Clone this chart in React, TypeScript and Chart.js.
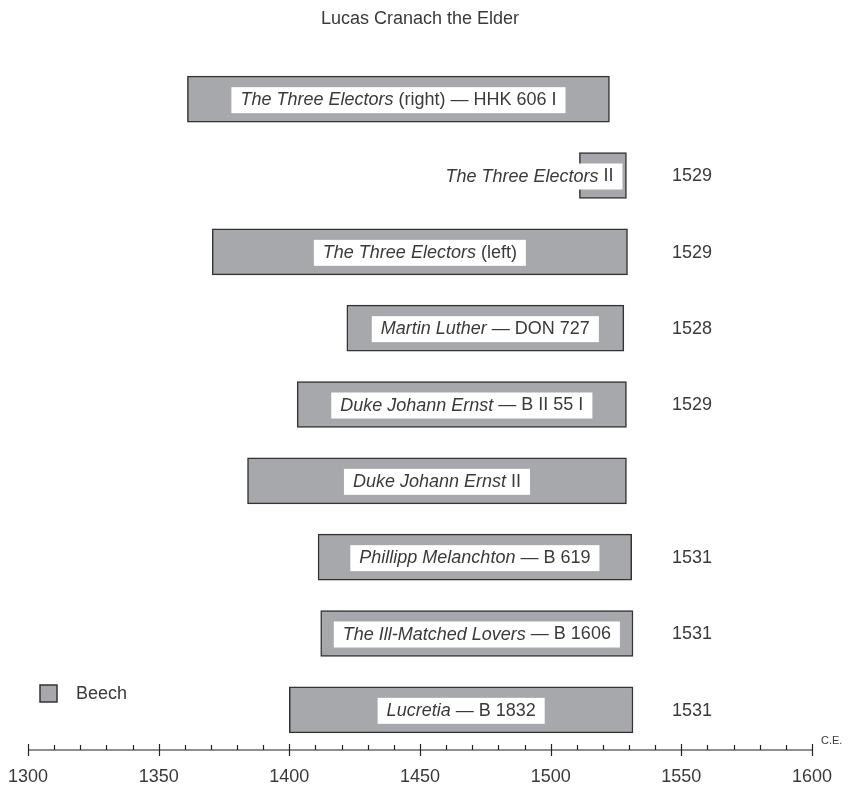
import React, { useEffect, useRef } from "react";
import { Chart, registerables } from "chart.js";

Chart.register(...registerables);

const TITLE = "Lucas Cranach the Elder";
const SPECIES = "Beech";
const ITALIC_TITLES = [
  "The Three Electors",
  "The Three Electors",
  "The Three Electors",
  "Martin Luther",
  "Duke Johann Ernst",
  "Duke Johann Ernst",
  "Phillipp Melanchton",
  "The Ill-Matched Lovers",
  "Lucretia",
];
const PLAIN_SUFFIXES = [
  " (right) — HHK 606 I",
  " II",
  " (left)",
  " — DON 727",
  " — B II 55 I",
  " II",
  " — B 619",
  " — B 1606",
  " — B 1832",
];
const START_YEARS = [1361, 1511, 1370.5, 1422, 1403, 1384, 1411, 1412, 1400];
const END_YEARS = [1522.5, 1529, 1529.4, 1528, 1529, 1529, 1531, 1531.5, 1531.5];
const DATE_LABELS = ["", "1529", "1529", "1528", "1529", "", "1531", "1531", "1531"];
const AXIS_TICKS = [1300, 1350, 1400, 1450, 1500, 1550, 1600];
const MINOR_STEP = 10;
const AXIS_UNIT = "C.E.";

const FONT = '"Liberation Sans", Arial, Helvetica, sans-serif';
const TEXT = "#3a3a3a";
const BAR_FILL = "#a7a8ab";
const BAR_EDGE = "#333333";

const overlayPlugin = {
  id: "overlay",
  afterDatasetsDraw(chart: any) {
    const ctx = chart.ctx;
    const area = chart.chartArea;
    const meta = chart.getDatasetMeta(0);
    ctx.save();
    meta.data.forEach((bar: any, i: number) => {
      const p = bar.getProps(["x", "y", "base"], true);
      const left = Math.min(p.x, p.base);
      const right = Math.max(p.x, p.base);
      ctx.font = `italic 18px ${FONT}`;
      const w1 = ctx.measureText(ITALIC_TITLES[i]).width;
      ctx.font = `18px ${FONT}`;
      const w2 = ctx.measureText(PLAIN_SUFFIXES[i]).width;
      const pad = 9;
      const boxW = w1 + w2 + pad * 2;
      let boxL = (left + right) / 2 - boxW / 2;
      if (boxW > right - left - 10) boxL = right - 4 - boxW;
      ctx.fillStyle = "#ffffff";
      ctx.fillRect(boxL, p.y - 12, boxW, 26);
      ctx.fillStyle = TEXT;
      ctx.textBaseline = "middle";
      ctx.textAlign = "left";
      ctx.font = `italic 18px ${FONT}`;
      ctx.fillText(ITALIC_TITLES[i], boxL + pad, p.y + 1);
      ctx.font = `18px ${FONT}`;
      ctx.fillText(PLAIN_SUFFIXES[i], boxL + pad + w1, p.y + 1);
      if (DATE_LABELS[i]) {
        ctx.fillText(DATE_LABELS[i], area.right - 140, p.y + 1);
      }
    });
    ctx.restore();
  },
  afterDraw(chart: any) {
    const ctx = chart.ctx;
    const area = chart.chartArea;
    const xs = chart.scales.x;
    const y0 = area.bottom + 2;
    ctx.save();
    ctx.strokeStyle = "#222222";
    ctx.lineWidth = 1.2;
    const x0 = xs.getPixelForValue(AXIS_TICKS[0]);
    const x1 = xs.getPixelForValue(AXIS_TICKS[AXIS_TICKS.length - 1]);
    ctx.beginPath();
    ctx.moveTo(x0, y0);
    ctx.lineTo(x1, y0);
    ctx.stroke();
    for (let v = AXIS_TICKS[0]; v <= AXIS_TICKS[AXIS_TICKS.length - 1]; v += MINOR_STEP) {
      const x = Math.round(xs.getPixelForValue(v)) + 0.5;
      ctx.beginPath();
      if (AXIS_TICKS.includes(v)) {
        ctx.moveTo(x, y0 - 6);
        ctx.lineTo(x, y0 + 6);
      } else {
        ctx.moveTo(x, y0 - 5);
        ctx.lineTo(x, y0);
      }
      ctx.stroke();
    }
    ctx.fillStyle = TEXT;
    ctx.font = `11px ${FONT}`;
    ctx.textAlign = "left";
    ctx.textBaseline = "alphabetic";
    ctx.fillText(AXIS_UNIT, x1 + 9, y0 - 6);

    // title
    ctx.font = `18px ${FONT}`;
    ctx.textAlign = "center";
    ctx.textBaseline = "middle";
    ctx.fillText(TITLE, (area.left + area.right) / 2, 19);

    // legend
    ctx.fillStyle = BAR_FILL;
    ctx.fillRect(40, 685, 17, 17);
    ctx.strokeStyle = BAR_EDGE;
    ctx.lineWidth = 1.5;
    ctx.strokeRect(40, 685, 17, 17);
    ctx.fillStyle = TEXT;
    ctx.textAlign = "left";
    ctx.fillText(SPECIES, 76, 694);
    ctx.restore();
  },
};

export default function App() {
  const ref = useRef<HTMLCanvasElement>(null);
  useEffect(() => {
    if (!ref.current) return;
    const chart = new Chart(ref.current, {
      type: "bar",
      data: {
        labels: ITALIC_TITLES.map((t, i) => t + PLAIN_SUFFIXES[i]),
        datasets: [
          {
            label: SPECIES,
            data: START_YEARS.map((s, i) => [s, END_YEARS[i]]) as any,
            backgroundColor: BAR_FILL,
            borderColor: BAR_EDGE,
            borderWidth: 1.5,
            borderSkipped: false,
            barThickness: 46,
          },
        ],
      },
      options: {
        indexAxis: "y",
        responsive: false,
        animation: false,
        layout: { padding: { left: 28, right: 43, top: 61, bottom: 0 } },
        plugins: {
          legend: { display: false },
          title: { display: false },
          tooltip: { enabled: false },
        },
        scales: {
          x: {
            type: "linear",
            position: "bottom",
            min: AXIS_TICKS[0],
            max: AXIS_TICKS[AXIS_TICKS.length - 1],
            afterBuildTicks: (scale: any) => {
              scale.ticks = AXIS_TICKS.map((v) => ({ value: v }));
            },
            afterFit: (scale: any) => {
              scale.height = 42;
              scale.paddingLeft = 0;
              scale.paddingRight = 0;
            },
            grid: { display: false, drawTicks: false },
            border: { display: false },
            ticks: {
              padding: 18,
              color: TEXT,
              font: { family: FONT, size: 18 },
              maxRotation: 0,
              autoSkip: false,
              callback: (v: any) => String(v),
            },
          },
          y: {
            type: "category",
            display: false,
            offset: true,
          },
        },
      },
      plugins: [overlayPlugin],
    });
    return () => chart.destroy();
  }, []);
  return (
    <div style={{ position: "absolute", left: 0, top: 0, width: 855, height: 790, background: "#fff" }}>
      <canvas ref={ref} width={855} height={790} style={{ display: "block" }} />
    </div>
  );
}
